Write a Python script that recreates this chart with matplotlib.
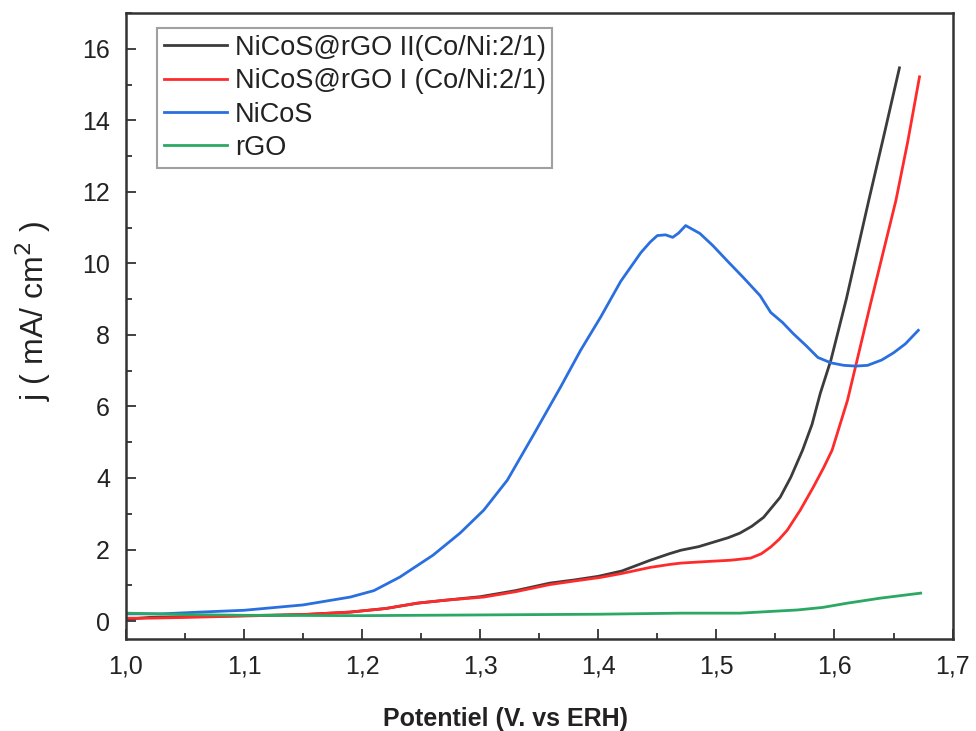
import matplotlib
matplotlib.use("Agg")
import matplotlib.pyplot as plt
from matplotlib.ticker import MultipleLocator, FuncFormatter

# Potential (V vs RHE) and current density (mA/cm2) for each electrode
nicos_rgo2_x = [1.000, 1.020, 1.050, 1.100, 1.150, 1.190, 1.220, 1.247, 1.270, 1.300, 1.330,
                1.359, 1.380, 1.400, 1.420, 1.444, 1.460, 1.470, 1.485, 1.497, 1.510, 1.520,
                1.530, 1.540, 1.554, 1.563, 1.573, 1.581, 1.588, 1.597, 1.610, 1.629, 1.642, 1.655]
nicos_rgo2_y = [0.05, 0.10, 0.12, 0.15, 0.18, 0.25, 0.35, 0.50, 0.58, 0.68, 0.85,
                1.06, 1.15, 1.25, 1.40, 1.70, 1.88, 1.98, 2.08, 2.20, 2.33, 2.46,
                2.65, 2.90, 3.46, 4.02, 4.78, 5.50, 6.37, 7.30, 9.00, 11.76, 13.60, 15.47]

nicos_rgo1_x = [1.000, 1.020, 1.050, 1.100, 1.150, 1.190, 1.220, 1.247, 1.270, 1.303, 1.330,
                1.359, 1.380, 1.402, 1.420, 1.444, 1.460, 1.470, 1.490, 1.512, 1.529, 1.538,
                1.546, 1.553, 1.560, 1.571, 1.582, 1.591, 1.598, 1.611, 1.630, 1.652, 1.662, 1.672]
nicos_rgo1_y = [0.08, 0.08, 0.10, 0.14, 0.18, 0.25, 0.35, 0.50, 0.58, 0.67, 0.82,
                1.02, 1.12, 1.22, 1.33, 1.50, 1.58, 1.62, 1.66, 1.70, 1.76, 1.88,
                2.07, 2.28, 2.54, 3.10, 3.74, 4.30, 4.78, 6.17, 8.80, 11.76, 13.40, 15.22]

nicos_x = [1.000, 1.030, 1.063, 1.100, 1.150, 1.190, 1.210, 1.232, 1.260, 1.283, 1.303,
           1.323, 1.345, 1.368, 1.385, 1.402, 1.419, 1.436, 1.444, 1.450, 1.457, 1.463,
           1.468, 1.474, 1.480, 1.486, 1.497, 1.509, 1.523, 1.537, 1.546, 1.556, 1.565,
           1.576, 1.586, 1.597, 1.608, 1.618, 1.628, 1.640, 1.650, 1.660, 1.671]
nicos_y = [0.20, 0.20, 0.25, 0.30, 0.45, 0.67, 0.85, 1.23, 1.84, 2.46, 3.10,
           3.94, 5.20, 6.54, 7.57, 8.50, 9.50, 10.30, 10.60, 10.78, 10.80, 10.73,
           10.85, 11.06, 10.95, 10.84, 10.50, 10.08, 9.60, 9.10, 8.63, 8.35, 8.04,
           7.70, 7.37, 7.22, 7.15, 7.13, 7.15, 7.30, 7.50, 7.75, 8.13]

rgo_x = [1.000, 1.050, 1.100, 1.200, 1.300, 1.400, 1.470, 1.520, 1.569, 1.590, 1.611,
         1.625, 1.639, 1.656, 1.673]
rgo_y = [0.22, 0.18, 0.16, 0.15, 0.17, 0.19, 0.22, 0.22, 0.31, 0.38, 0.50,
         0.57, 0.64, 0.71, 0.78]

series_labels = ["NiCoS@rGO II(Co/Ni:2/1)", "NiCoS@rGO I (Co/Ni:2/1)", "NiCoS", "rGO"]
series_colors = ["#3c3c3c", "#ff2b2b", "#2a6fe0", "#2aa864"]

plt.rcParams["font.family"] = ["Liberation Sans", "DejaVu Sans"]

fig = plt.figure(figsize=(9.76, 7.31), dpi=100)
ax = fig.add_axes([0.129, 0.126, 0.847, 0.856])

data = [(nicos_rgo2_x, nicos_rgo2_y), (nicos_rgo1_x, nicos_rgo1_y),
        (nicos_x, nicos_y), (rgo_x, rgo_y)]
for (xs, ys), lab, col in zip(data, series_labels, series_colors):
    ax.plot(xs, ys, color=col, lw=2.0, label=lab, solid_joinstyle="round")

ax.set_xlim(1.0, 1.7)
ax.set_ylim(-0.5, 17.0)
ax.xaxis.set_major_locator(MultipleLocator(0.1))
ax.xaxis.set_minor_locator(MultipleLocator(0.05))
ax.yaxis.set_major_locator(MultipleLocator(2))
ax.yaxis.set_minor_locator(MultipleLocator(1))
ax.xaxis.set_major_formatter(FuncFormatter(lambda v, p: f"{v:.1f}".replace(".", ",")))

ax.tick_params(which="both", direction="in", top=False, right=False, width=1.3, color="#333333")
ax.tick_params(which="major", length=7)
ax.tick_params(which="minor", length=4)
ax.tick_params(axis="y", labelsize=18, pad=11.5, labelcolor="#222222")
ax.tick_params(axis="x", labelsize=18, pad=11.5, labelcolor="#222222")
for s in ax.spines.values():
    s.set_linewidth(1.8)
    s.set_color("#333333")

ax.set_ylabel("j ( mA/ cm$^2$ )", fontsize=23, color="#222222", va="center")
ax.yaxis.set_label_coords(-0.112, 0.524)
ax.set_xlabel("Potentiel (V. vs ERH)", fontsize=18, fontweight="bold",
              color="#222222", va="baseline")
ax.xaxis.set_label_coords(0.4595, -0.140)

leg = ax.legend(loc="upper left", bbox_to_anchor=(0.0375, 0.976), fontsize=19.5,
                frameon=True, fancybox=False, edgecolor="#888888", handlelength=2.35,
                handletextpad=0.27, labelspacing=0.27, borderpad=0.25, borderaxespad=0.0)
leg.get_frame().set_linewidth(1.5)
for t in leg.get_texts():
    t.set_color("#222222")

fig.savefig("out.png", dpi=100)
